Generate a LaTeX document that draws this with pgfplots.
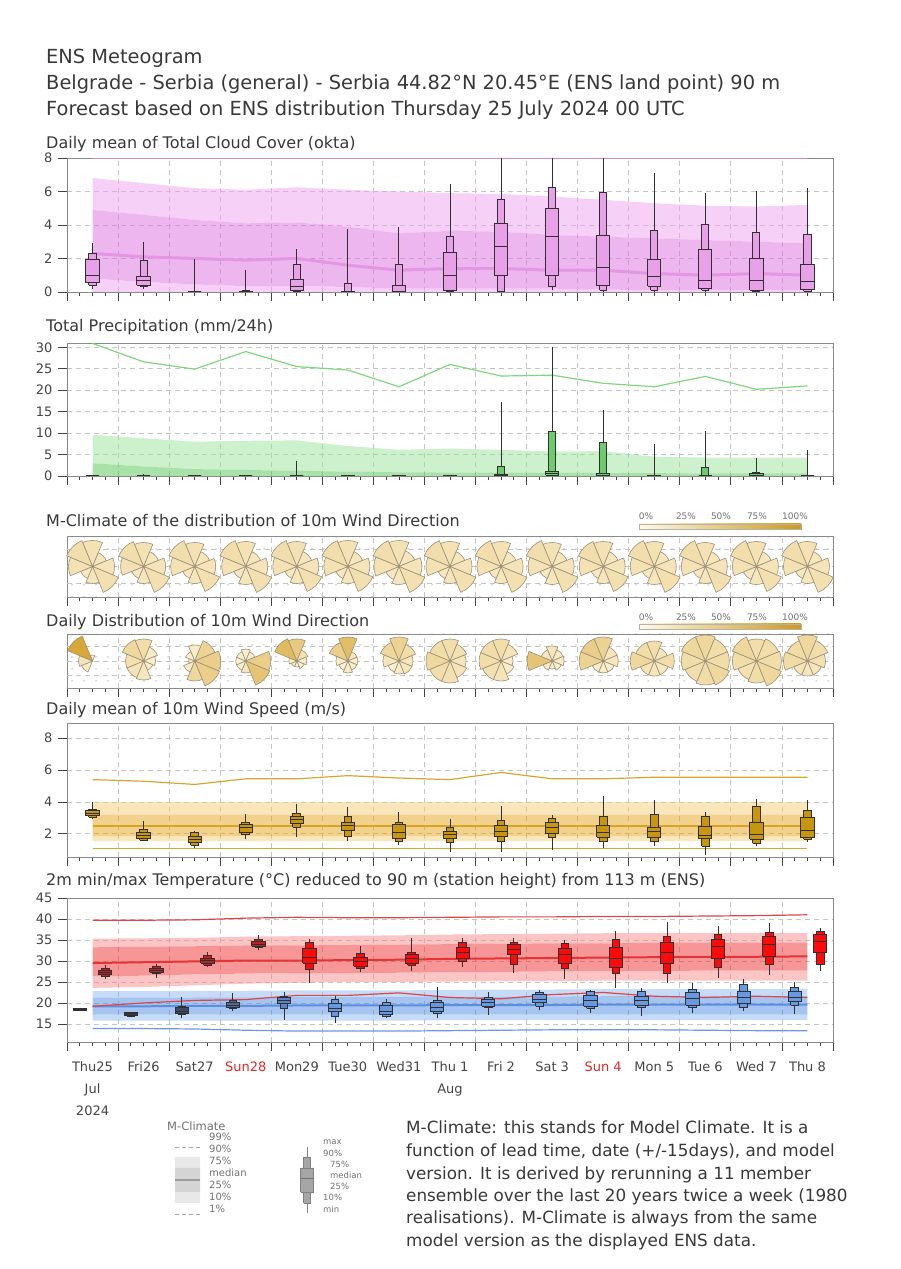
\documentclass[border=0pt]{standalone}
\usepackage{pgfplots}
\pgfplotsset{compat=1.18}
\usepackage{pgfplotstable}
\usepgfplotslibrary{fillbetween}
\usetikzlibrary{patterns.meta}
\usepackage{fontspec}
\setmainfont{DejaVu Sans}

\definecolor{txt}{HTML}{383838}
\definecolor{tickc}{HTML}{444444}
\definecolor{axisc}{HTML}{8A8A8A}
\definecolor{gridc}{HTML}{C4C4C4}
\definecolor{dotc}{HTML}{B0B0B0}
\definecolor{boxedge}{HTML}{303030}
\definecolor{cloudL}{HTML}{EDA1ED}
\definecolor{cloudM}{HTML}{DD6DDD}
\definecolor{cloudMed}{HTML}{E396E3}
\definecolor{cloudTop}{HTML}{D48AB8}
\definecolor{cloudBox}{HTML}{E8A0E8}
\definecolor{precL}{HTML}{9BE19B}
\definecolor{precM}{HTML}{51C551}
\definecolor{prec99}{HTML}{7FD67F}
\definecolor{precBox}{HTML}{6CCB6C}
\definecolor{windL}{HTML}{F3CD78}
\definecolor{windM}{HTML}{E3A318}
\definecolor{windMed}{HTML}{D8A424}
\definecolor{wind99}{HTML}{D6A630}
\definecolor{windBox}{HTML}{C8960E}
\definecolor{redL}{HTML}{F98B8B}
\definecolor{redM}{HTML}{ED2D2D}
\definecolor{redMed}{HTML}{E43434}
\definecolor{red99}{HTML}{E04444}
\definecolor{redA}{HTML}{BE2222}
\definecolor{redB}{HTML}{FF0A0A}
\definecolor{blueL}{HTML}{8DB7EF}
\definecolor{blueM}{HTML}{4D89E1}
\definecolor{blueMed}{HTML}{5C8EE0}
\definecolor{blueOne}{HTML}{6B97E2}
\definecolor{blueA}{HTML}{3C3C40}
\definecolor{blueB}{HTML}{3E4C68}
\definecolor{blueC}{HTML}{4E6C9E}
\definecolor{blueD}{HTML}{5B82C6}
\definecolor{blueE}{HTML}{6898E2}
\definecolor{roseLo}{HTML}{FFF9E6}
\definecolor{roseHi}{HTML}{D09A18}
\definecolor{roseMid}{HTML}{E8C96E}
\definecolor{roseEdge}{HTML}{9C9078}
\definecolor{sunred}{HTML}{E02828}
\definecolor{legg}{HTML}{707070}

% ---------------- data ----------------
\pgfplotstableread{
x q10 q25 md q75 q90 p99
0 0 0.8 2.3 4.9 6.8 7.96
1 0 0.6 2.1 4.6 6.5 7.96
2 0 0.45 2.0 4.3 6.2 7.96
3 0 0.35 1.9 4.1 6.1 7.96
4 0 0.35 2.0 4.15 6.25 7.96
5 0 0.3 1.6 3.9 6.1 7.96
6 0 0.2 1.3 3.5 6.0 7.96
7 0 0.2 1.4 3.65 5.9 7.96
8 0 0.2 1.4 3.6 5.85 7.96
9 0 0.2 1.3 3.4 5.7 7.96
10 0 0.15 1.3 3.3 5.5 7.96
11 0 0.1 1.1 3.2 5.3 7.96
12 0 0.1 1.0 3.1 5.15 7.96
13 0 0.1 1.1 3.0 5.1 7.96
14 0 0.1 1.0 2.9 5.2 7.96
}\cloudclim
\pgfplotstableread{
x mn q10 q25 md q75 q90 mx
0 0.2 0.4 0.54 0.96 1.94 2.3 2.9
1 0.2 0.3 0.4 0.7 0.9 1.86 3.0
2 0 0 0 0 0 0 1.94
3 0 0 0 0.02 0.05 0.1 1.3
4 0 0 0.1 0.3 0.76 1.66 2.55
5 0 0 0 0 0 0.5 3.76
6 0 0 0 0.05 0.36 1.66 3.86
7 0 0.05 0.1 1.0 2.34 3.34 6.44
8 0 0 0.96 2.7 4.06 5.5 8
9 0.1 0.3 0.96 3.34 4.98 6.26 8
10 0 0.1 0.36 1.46 3.4 5.94 8
11 0 0.1 0.34 0.94 1.94 3.66 7.1
12 0 0.1 0.2 0.7 2.56 4.0 5.9
13 0 0 0.1 0.7 2.0 3.54 6.0
14 0 0.05 0.14 0.6 1.66 3.46 6.2
}\cloudbox
\pgfplotstableread{
x q10 q75 q90 p99
0 0 2.95 9.6 30.9
1 0 2.2 8.8 26.6
2 0 1.6 8.0 24.9
3 0 1.4 8.2 29.0
4 0 1.2 8.3 25.5
5 0 1.0 7.0 24.7
6 0 0.85 6.1 20.8
7 0 0.8 6.4 26.0
8 0 0.8 6.1 23.3
9 0 0.75 5.7 23.5
10 0 0.7 5.8 21.6
11 0 0.65 4.5 20.8
12 0 0.6 4.3 23.2
13 0 0.6 4.3 20.2
14 0 0.6 4.3 21.0
}\precclim
\pgfplotstableread{
x mn q10 q25 md q75 q90 mx
0 0 0 0 0 0 0.1 0.3
1 0 0 0 0 0 0.1 0.5
2 0 0 0 0 0 0 0
3 0 0 0 0 0 0 0
4 0 0 0 0 0 0 3.5
5 0 0 0 0 0 0 0
6 0 0 0 0 0 0 0.2
7 0 0 0 0 0 0 0
8 0 0 0 0 0.3 2.2 17.2
9 0 0 0.2 0.5 1.0 10.3 30.1
10 0 0 0 0.2 0.6 7.8 15.4
11 0 0 0 0 0.1 0.2 7.4
12 0 0 0 0 0 1.9 10.6
13 0 0 0 0.2 0.6 0.8 4.1
14 0 0 0 0 0 0.1 6.1
}\precbox
\pgfplotstableread{
x n ne e se s sw w nw cn cne ce cse cs csw cw cnw
0 26 15 22 28 17 13 24 28 24 20 22 26 20 18 24 28
1 24 16 22 28 17 13 23 27 24 20 22 26 20 18 24 28
2 24 16 21 27 17 13 24 28 24 20 22 26 20 18 24 28
3 25 16 22 28 18 13 24 28 24 20 22 26 20 18 24 28
4 25 16 22 27 17 13 24 28 24 20 22 26 20 18 24 28
5 26 16 22 27 17 13 24 28 24 20 22 26 20 18 24 28
6 26 17 23 28 18 14 25 28 24 20 22 26 20 18 24 28
7 25 16 22 28 17 13 24 28 24 20 22 26 20 18 24 28
8 25 16 22 28 17 13 24 28 24 20 22 26 20 18 24 28
9 24 16 22 28 18 13 24 28 24 20 22 26 20 18 24 28
10 25 16 22 27 17 13 24 27 24 20 22 26 20 18 24 28
11 25 16 22 28 18 13 24 28 24 20 22 26 20 18 24 28
12 24 16 22 28 17 13 24 28 24 20 22 26 20 18 24 28
13 25 16 22 27 18 14 24 28 24 20 22 26 20 18 24 28
14 25 16 22 28 17 13 24 28 24 20 22 26 20 18 24 28
}\mcrose
\pgfplotstableread{
x n ne e se s sw w nw cn cne ce cse cs csw cw cnw
0 6 0.1 0.1 0.1 0.1 12 14 27 10 0 0 0 0 15 22 85
1 22 15 12 10 19 18 18 23 30 15 12 12 20 22 25 35
2 16 22 26 27 20 12 6 10 15 40 45 45 35 15 10 10
3 12 10 25 26 12 10 10 10 12 12 45 55 20 10 10 10
4 22 12 10 8 6 6 8 24 50 25 15 10 8 8 12 65
5 24 10 10 10 12 10 12 20 62 20 12 12 15 10 15 45
6 24 18 14 14 13 12 16 20 40 30 20 20 15 12 20 35
7 22 18 16 18 22 22 24 22 28 25 20 22 25 28 35 30
8 22 18 12 14 20 20 22 22 28 22 15 15 22 25 30 30
9 15 12 12 10 8 10 25 12 20 15 15 10 12 15 55 20
10 24 15 15 12 12 12 24 24 40 20 20 12 12 15 40 45
11 20 14 20 15 15 15 24 20 28 20 28 18 20 22 35 30
12 26 24 24 26 24 22 24 26 35 30 30 35 30 28 30 35
13 22 24 25 27 22 20 24 26 28 30 30 35 30 25 30 35
14 26 22 18 15 15 15 24 22 35 28 25 20 20 22 32 32
}\dyrose
\pgfplotstableread{
x p1 q10 q25 md q75 q90 p99
0 1.1 1.55 1.85 2.5 3.2 4.0 5.4
1 1.1 1.55 1.85 2.5 3.2 4.0 5.3
2 1.1 1.55 1.85 2.5 3.2 4.0 5.1
3 1.1 1.55 1.85 2.5 3.2 4.0 5.45
4 1.1 1.55 1.85 2.5 3.2 4.0 5.45
5 1.1 1.55 1.85 2.5 3.2 4.0 5.65
6 1.1 1.55 1.85 2.5 3.2 4.0 5.5
7 1.1 1.55 1.85 2.5 3.2 4.0 5.4
8 1.1 1.55 1.85 2.5 3.2 4.0 5.85
9 1.1 1.55 1.85 2.5 3.2 4.0 5.45
10 1.1 1.55 1.85 2.5 3.2 4.0 5.45
11 1.1 1.55 1.85 2.5 3.2 4.0 5.55
12 1.1 1.55 1.85 2.5 3.2 4.0 5.55
13 1.1 1.55 1.85 2.5 3.2 4.0 5.55
14 1.1 1.55 1.85 2.5 3.2 4.0 5.55
}\windclim
\pgfplotstableread{
x mn q10 q25 md q75 q90 mx
0 2.95 3.05 3.15 3.3 3.45 3.55 4.0
1 1.55 1.6 1.7 1.9 2.1 2.27 2.8
2 1.1 1.3 1.44 1.65 1.85 2.1 2.2
3 1.65 1.96 2.1 2.4 2.6 2.73 3.27
4 1.8 2.4 2.65 2.9 3.1 3.3 3.9
5 1.55 1.85 2.2 2.5 2.7 3.06 3.7
6 1.3 1.55 1.7 2.1 2.6 2.73 3.4
7 0.85 1.44 1.7 1.96 2.17 2.4 2.94
8 0.85 1.54 1.85 2.17 2.5 2.85 3.73
9 1.0 1.8 2.0 2.38 2.73 2.94 3.2
10 1.1 1.54 1.8 2.06 2.52 3.06 4.35
11 1.23 1.54 1.75 2.12 2.38 3.2 4.1
12 0.7 1.23 1.7 1.9 2.44 3.06 3.4
13 1.23 1.4 1.65 1.96 2.73 3.73 4.2
14 1.5 1.65 1.75 2.2 3.0 3.46 4.1
}\windbox
\pgfplotstableread{
x p1 q10 q25 md q75 q90 p99
0 19.2 23.6 26.3 29.5 33.25 35.3 39.7
1 20.0 23.8 26.5 29.7 33.4 35.4 39.7
2 20.6 24.2 26.8 29.9 33.5 35.5 39.8
3 20.8 24.6 27.0 30.1 33.7 35.8 40.2
4 21.8 24.8 27.1 30.1 33.7 35.9 40.4
5 21.8 25.0 27.1 30.2 33.8 36.0 40.3
6 22.4 25.0 27.2 30.3 33.9 36.1 40.3
7 21.3 25.1 27.3 30.5 34.0 36.3 40.4
8 21.0 25.2 27.4 30.6 34.1 36.4 40.5
9 22.0 25.2 27.5 30.7 34.2 36.5 40.5
10 22.5 25.3 27.6 30.8 34.2 36.6 40.6
11 21.6 25.3 27.6 30.9 34.3 36.7 40.6
12 21.3 25.3 27.7 31.0 34.3 36.7 40.7
13 21.6 25.3 27.7 31.0 34.3 36.7 40.8
14 21.3 25.3 27.7 31.1 34.3 36.7 41.0
}\tmaxclim
\pgfplotstableread{
x p1 q10 q25 md q75 q90 p99
0 13.9 15.8 17.2 19.2 21.2 22.8 24.6
1 13.9 15.8 17.2 19.2 21.2 22.8 24.7
2 13.8 15.8 17.2 19.3 21.3 22.9 24.8
3 13.5 15.8 17.2 19.3 21.3 22.9 24.8
4 13.3 15.8 17.2 19.4 21.4 23.0 24.9
5 13.3 15.8 17.2 19.4 21.4 23.0 25.0
6 13.3 15.8 17.2 19.4 21.4 23.0 25.0
7 13.4 15.9 17.2 19.5 21.5 23.1 25.1
8 13.5 15.9 17.2 19.5 21.5 23.2 25.1
9 13.6 15.9 17.2 19.5 21.5 23.2 25.2
10 13.6 15.9 17.2 19.6 21.6 23.3 25.2
11 13.6 15.9 17.2 19.6 21.6 23.3 25.3
12 13.5 15.9 17.2 19.6 21.6 23.3 25.3
13 13.4 15.9 17.2 19.6 21.6 23.3 25.3
14 13.4 15.9 17.2 19.6 21.6 23.3 25.3
}\tminclim
\pgfplotstableread{
x mn q10 q25 md q75 q90 mx
0 25.6 26.3 26.7 27.3 27.8 28.2 29.1
1 26.0 26.9 27.3 27.8 28.3 28.7 29.3
2 28.5 29.0 29.5 30.1 30.7 31.3 32.1
3 32.5 33.3 33.5 34.0 34.7 35.1 36.3
4 24.8 27.9 29.5 30.9 32.9 34.3 35.3
5 27.4 28.1 28.7 29.8 30.9 31.7 33.5
6 27.7 29.0 29.5 30.6 31.5 32.1 35.5
7 28.5 29.8 30.7 32.1 33.1 34.3 35.5
8 27.1 29.1 31.5 32.7 33.9 34.4 35.5
9 25.8 28.3 29.5 31.5 32.9 34.1 35.1
10 23.6 27.1 28.5 30.7 33.1 35.1 37.2
11 24.8 27.1 29.5 32.1 34.3 35.9 39.4
12 26.0 28.5 30.7 33.5 35.1 36.3 38.3
13 26.6 29.1 31.1 33.9 35.9 36.9 39.0
14 27.7 29.1 31.9 34.7 36.3 37.1 37.9
}\tmaxbox
\pgfplotstableread{
x mn q10 q25 md q75 q90 mx
0 18.0 18.1 18.2 18.4 18.6 18.7 18.8
1 16.6 16.8 17.0 17.4 17.7 17.8 17.9
2 16.3 17.2 17.4 18.0 18.8 19.2 21.3
3 18.2 18.7 18.8 19.4 20.2 20.6 22.4
4 16.0 18.7 19.8 20.6 21.3 21.6 22.6
5 15.2 16.8 17.9 18.7 19.8 20.8 21.6
6 16.4 16.8 17.2 18.0 19.4 20.0 21.0
7 16.4 17.4 17.9 19.0 20.0 20.6 23.7
8 17.2 18.8 19.2 20.0 20.8 21.2 22.6
9 18.4 19.2 20.0 20.8 22.0 22.6 23.2
10 17.6 18.7 19.2 20.6 21.8 22.8 23.2
11 16.8 18.8 19.4 20.6 21.6 22.8 23.6
12 17.6 18.8 19.4 21.0 22.4 23.2 24.8
13 18.0 18.8 19.8 21.3 22.8 24.5 25.8
14 17.4 19.4 20.4 21.3 22.8 23.6 25.0
}\tminbox

% ---------------- styles ----------------
\pgfplotsset{
  meteo/.style={
    scale only axis, width=766pt, anchor=south west,
    xmin=-0.5, xmax=14.5,
    xtick={-0.5,0.5,...,14.5}, minor x tick num=3, xticklabels={},
    tick align=outside, tick pos=left,
    major tick length=9pt, minor tick length=4.5pt,
    tick style={draw=tickc, line width=0.8pt},
    grid=major, major grid style={draw=gridc, line width=0.8pt, dash pattern=on 5pt off 4pt},
    axis line style={draw=axisc, line width=0.9pt},
    yticklabel style={font=\fontsize{13}{13}\selectfont, text=tickc, xshift=-2pt},
    /pgf/number format/assume math mode=true,
  },
  band/.style={fill=#1, fill opacity=0.5, draw=none},
  rosepanel/.style={
    meteo, ymin=-1, ymax=1, ytick=\empty,
    extra y ticks={-0.55,0,0.55}, extra y tick labels={},
    extra y tick style={major tick length=0pt},
    axis background/.style={pattern={Dots[distance=12pt,radius=0.75pt]}, pattern color=dotc},
  },
}

% one wind-rose sector: angle, radius (pt), colour percent
\newcommand{\rosewedge}[3]{%
  \pgfkeys{/pgf/fpu=false}%
  \pgfmathsetmacro\wa{#1-22.5}\pgfmathsetmacro\wb{#1+22.5}%
  \pgfpathmoveto{\pgfpointorigin}%
  \pgfpathlineto{\pgfpointpolar{\wa}{#2pt}}%
  \pgfpatharc{\wa}{\wb}{#2pt}%
  \pgfpathclose
  \colorlet{rosetmp}{roseHi!#3!roseLo}%
  \pgfsetfillcolor{rosetmp}\pgfsetstrokecolor{roseEdge}\pgfsetlinewidth{0.6pt}%
  \pgfusepath{fill,stroke}%
}
% declare one plot mark per day from a rose table: #1 table, #2 mark prefix
\newcommand{\defroses}[2]{%
  \pgfplotsinvokeforeach{0,...,14}{%
    \pgfplotstablegetelem{##1}{n}\of#1\edef\rA{\pgfplotsretval}%
    \pgfplotstablegetelem{##1}{ne}\of#1\edef\rB{\pgfplotsretval}%
    \pgfplotstablegetelem{##1}{e}\of#1\edef\rC{\pgfplotsretval}%
    \pgfplotstablegetelem{##1}{se}\of#1\edef\rD{\pgfplotsretval}%
    \pgfplotstablegetelem{##1}{s}\of#1\edef\rE{\pgfplotsretval}%
    \pgfplotstablegetelem{##1}{sw}\of#1\edef\rF{\pgfplotsretval}%
    \pgfplotstablegetelem{##1}{w}\of#1\edef\rG{\pgfplotsretval}%
    \pgfplotstablegetelem{##1}{nw}\of#1\edef\rH{\pgfplotsretval}%
    \pgfplotstablegetelem{##1}{cn}\of#1\edef\cA{\pgfplotsretval}%
    \pgfplotstablegetelem{##1}{cne}\of#1\edef\cB{\pgfplotsretval}%
    \pgfplotstablegetelem{##1}{ce}\of#1\edef\cC{\pgfplotsretval}%
    \pgfplotstablegetelem{##1}{cse}\of#1\edef\cD{\pgfplotsretval}%
    \pgfplotstablegetelem{##1}{cs}\of#1\edef\cE{\pgfplotsretval}%
    \pgfplotstablegetelem{##1}{csw}\of#1\edef\cF{\pgfplotsretval}%
    \pgfplotstablegetelem{##1}{cw}\of#1\edef\cG{\pgfplotsretval}%
    \pgfplotstablegetelem{##1}{cnw}\of#1\edef\cH{\pgfplotsretval}%
    \edef\tmp{\noexpand\pgfdeclareplotmark{#2##1}{%
      \noexpand\rosewedge{90}{\rA}{\cA}\noexpand\rosewedge{45}{\rB}{\cB}%
      \noexpand\rosewedge{0}{\rC}{\cC}\noexpand\rosewedge{-45}{\rD}{\cD}%
      \noexpand\rosewedge{-90}{\rE}{\cE}\noexpand\rosewedge{-135}{\rF}{\cF}%
      \noexpand\rosewedge{180}{\rG}{\cG}\noexpand\rosewedge{135}{\rH}{\cH}}}%
    \tmp
  }%
}
\newcommand{\placeroses}[2]{%
  \pgfplotsinvokeforeach{0,...,14}{%
    \pgfplotstablegetelem{##1}{x}\of#1\edef\rx{\pgfplotsretval}%
    \edef\tmp{\noexpand\addplot[only marks, mark=#2##1] coordinates {(\rx,0)};}%
    \tmp
  }%
}
\defroses{\mcrose}{mcr}
\defroses{\dyrose}{dyr}

% #1 table, #2 rows, #3 fill colour, #4 x offset, #5 narrow half width
\newcommand{\ensboxes}[5]{%
  \pgfplotsinvokeforeach{#2}{%
    \pgfplotstablegetelem{##1}{mn}\of#1\edef\bmn{\pgfplotsretval}%
    \pgfplotstablegetelem{##1}{q10}\of#1\edef\bqa{\pgfplotsretval}%
    \pgfplotstablegetelem{##1}{q25}\of#1\edef\bqb{\pgfplotsretval}%
    \pgfplotstablegetelem{##1}{md}\of#1\edef\bmd{\pgfplotsretval}%
    \pgfplotstablegetelem{##1}{q75}\of#1\edef\bqc{\pgfplotsretval}%
    \pgfplotstablegetelem{##1}{q90}\of#1\edef\bqd{\pgfplotsretval}%
    \pgfplotstablegetelem{##1}{mx}\of#1\edef\bmx{\pgfplotsretval}%
    \pgfmathsetmacro\bpos{##1#4}%
    \pgfmathsetmacro\bna{\bpos-#5}\pgfmathsetmacro\bnb{\bpos+#5}%
    \pgfmathsetmacro\bwa{\bpos-0.13}\pgfmathsetmacro\bwb{\bpos+0.13}%
    \edef\doboxes{%
      \noexpand\addplot[boxedge, line width=1pt] coordinates {(\bpos,\bmn) (\bpos,\bmx)};
      \noexpand\addplot[fill=#3, draw=boxedge, line width=1pt, line join=miter] coordinates {(\bna,\bqa) (\bnb,\bqa) (\bnb,\bqd) (\bna,\bqd) (\bna,\bqa)};
      \noexpand\addplot[fill=#3, draw=boxedge, line width=1pt, line join=miter] coordinates {(\bwa,\bqb) (\bwb,\bqb) (\bwb,\bqc) (\bwa,\bqc) (\bwa,\bqb)};
      \noexpand\addplot[boxedge, line width=1pt] coordinates {(\bwa,\bmd) (\bwb,\bmd)};
    }%
    \doboxes
  }%
}

\begin{document}
\begin{tikzpicture}
\path (0pt,0pt) rectangle (900pt,1269pt);

% titles
\begin{scope}[every node/.style={anchor=base west, inner sep=0pt, text=txt}]
\node[font=\fontsize{19.4}{19.4}\selectfont] at (46pt,1205.5pt) {ENS Meteogram};
\node[font=\fontsize{19.4}{19.4}\selectfont] at (46pt,1179.5pt) {Belgrade - Serbia (general) - Serbia 44.82°N 20.45°E (ENS land point) 90 m};
\node[font=\fontsize{19.4}{19.4}\selectfont] at (46pt,1153.5pt) {Forecast based on ENS distribution Thursday 25 July 2024 00 UTC};
\node[font=\fontsize{16}{16}\selectfont] at (46pt,1120pt) {Daily mean of Total Cloud Cover (okta)};
\node[font=\fontsize{16}{16}\selectfont] at (46pt,937pt) {Total Precipitation (mm/24h)};
\node[font=\fontsize{16}{16}\selectfont] at (46pt,742pt) {M-Climate of the distribution of 10m Wind Direction};
\node[font=\fontsize{16}{16}\selectfont] at (46pt,642pt) {Daily Distribution of 10m Wind Direction};
\node[font=\fontsize{16}{16}\selectfont] at (46pt,554pt) {Daily mean of 10m Wind Speed (m/s)};
\node[font=\fontsize{16}{16}\selectfont] at (46pt,383pt) {2m min/max Temperature (°C) reduced to 90 m (station height) from 113 m (ENS)};
\end{scope}

% ---- cloud cover ----
\begin{axis}[meteo, at={(67pt,977pt)}, height=134pt, ymin=0, ymax=8, ytick={0,2,4,6,8}]
\addplot[name path=ca, draw=none] table[x=x,y=q90]{\cloudclim};
\addplot[name path=cb, draw=none] table[x=x,y=q10]{\cloudclim};
\addplot[name path=cc, draw=none] table[x=x,y=q75]{\cloudclim};
\addplot[name path=cd, draw=none] table[x=x,y=q25]{\cloudclim};
\addplot[band=cloudL] fill between[of=ca and cc];
\addplot[band=cloudM] fill between[of=cc and cd];
\addplot[band=cloudL] fill between[of=cd and cb];
\addplot[cloudMed, line width=3pt] table[x=x,y=md]{\cloudclim};
\addplot[cloudTop, line width=1.2pt] table[x=x,y=p99]{\cloudclim};
\ensboxes{\cloudbox}{0,...,14}{cloudBox}{+0}{0.07}
\end{axis}

% ---- precipitation ----
\begin{axis}[meteo, at={(67pt,793pt)}, height=133pt, ymin=0, ymax=31, ytick={0,5,...,30}]
\addplot[name path=pa, draw=none] table[x=x,y=q90]{\precclim};
\addplot[name path=pb, draw=none] table[x=x,y=q10]{\precclim};
\addplot[name path=pc, draw=none] table[x=x,y=q75]{\precclim};
\addplot[band=precL] fill between[of=pa and pc];
\addplot[band=precM] fill between[of=pc and pb];
\addplot[prec99, line width=1.2pt] table[x=x,y=p99]{\precclim};
\ensboxes{\precbox}{0,...,14}{precBox}{+0}{0.07}
\end{axis}

% ---- wind direction M-climate ----
\begin{axis}[rosepanel, at={(67pt,672pt)}, height=61pt]
\placeroses{\mcrose}{mcr}
\end{axis}
\shade[left color=roseLo, middle color=roseMid, right color=roseHi, draw=gray!60, line width=0.4pt] (639pt,740pt) rectangle (801pt,745pt);
\begin{scope}[every node/.style={font=\fontsize{9}{9}\selectfont, text=legg, inner sep=0pt}]
\node at (646pt,753pt) {0\%}; \node at (686pt,753pt) {25\%}; \node at (721pt,753pt) {50\%};
\node at (757pt,753pt) {75\%}; \node at (795pt,753pt) {100\%};
\end{scope}

% ---- wind direction daily ----
\begin{axis}[rosepanel, at={(67pt,581pt)}, height=54pt]
\placeroses{\dyrose}{dyr}
\end{axis}
\shade[left color=roseLo, middle color=roseMid, right color=roseHi, draw=gray!60, line width=0.4pt] (639pt,640pt) rectangle (801pt,645pt);
\begin{scope}[every node/.style={font=\fontsize{9}{9}\selectfont, text=legg, inner sep=0pt}]
\node at (646pt,652pt) {0\%}; \node at (686pt,652pt) {25\%}; \node at (721pt,652pt) {50\%};
\node at (757pt,652pt) {75\%}; \node at (795pt,652pt) {100\%};
\end{scope}

% ---- wind speed ----
\begin{axis}[meteo, at={(67pt,412pt)}, height=134pt, ymin=0.55, ymax=8.95, ytick={2,4,6,8}]
\addplot[name path=wa, draw=none] table[x=x,y=q90]{\windclim};
\addplot[name path=wb, draw=none] table[x=x,y=q10]{\windclim};
\addplot[name path=wc, draw=none] table[x=x,y=q75]{\windclim};
\addplot[name path=wd, draw=none] table[x=x,y=q25]{\windclim};
\addplot[band=windL] fill between[of=wa and wc];
\addplot[band=windM] fill between[of=wc and wd];
\addplot[band=windL] fill between[of=wd and wb];
\addplot[windMed, line width=2.5pt] table[x=x,y=md]{\windclim};
\addplot[wind99, line width=1.2pt] table[x=x,y=p99]{\windclim};
\addplot[wind99, line width=1.2pt] table[x=x,y=p1]{\windclim};
\ensboxes{\windbox}{0,...,14}{windBox}{+0}{0.075}
\end{axis}

% ---- temperature ----
\begin{axis}[meteo, at={(67pt,227pt)}, height=144pt, ymin=10.7, ymax=45, ytick={15,20,...,45},
  extra x ticks={0,...,14},
  extra x tick labels={{Thu25\\Jul\\2024},Fri26,Sat27,\textcolor{sunred}{Sun28},Mon29,Tue30,Wed31,{Thu 1\\Aug},Fri 2,Sat 3,\textcolor{sunred}{Sun 4},Mon 5,Tue 6,Wed 7,Thu 8},
  extra x tick style={grid=none, major tick length=0pt,
    xticklabel style={align=center, anchor=north, font=\fontsize{13}{22}\selectfont, text=tickc, yshift=-16pt}}]
\addplot[name path=ba, draw=none] table[x=x,y=q90]{\tminclim};
\addplot[name path=bb, draw=none] table[x=x,y=q10]{\tminclim};
\addplot[name path=bc, draw=none] table[x=x,y=q75]{\tminclim};
\addplot[name path=bd, draw=none] table[x=x,y=q25]{\tminclim};
\addplot[band=blueL] fill between[of=ba and bc];
\addplot[band=blueM] fill between[of=bc and bd];
\addplot[band=blueL] fill between[of=bd and bb];
\addplot[name path=ra, draw=none] table[x=x,y=q90]{\tmaxclim};
\addplot[name path=rb, draw=none] table[x=x,y=q10]{\tmaxclim};
\addplot[name path=rc, draw=none] table[x=x,y=q75]{\tmaxclim};
\addplot[name path=rd, draw=none] table[x=x,y=q25]{\tmaxclim};
\addplot[band=redL] fill between[of=ra and rc];
\addplot[band=redM] fill between[of=rc and rd];
\addplot[band=redL] fill between[of=rd and rb];
\addplot[blueMed, line width=2pt] table[x=x,y=md]{\tminclim};
\addplot[blueOne, line width=1.2pt] table[x=x,y=p1]{\tminclim};
\addplot[redMed, line width=2pt] table[x=x,y=md]{\tmaxclim};
\addplot[red99, line width=1.2pt] table[x=x,y=p99]{\tmaxclim};
\addplot[red99, line width=1.2pt] table[x=x,y=p1]{\tmaxclim};
\ensboxes{\tminbox}{0,1}{blueA}{-0.25}{0.075}
\ensboxes{\tminbox}{2}{blueB}{-0.25}{0.075}
\ensboxes{\tminbox}{3}{blueC}{-0.25}{0.075}
\ensboxes{\tminbox}{4}{blueD}{-0.25}{0.075}
\ensboxes{\tminbox}{5,...,14}{blueE}{-0.25}{0.075}
\ensboxes{\tmaxbox}{0,...,3}{redA}{+0.25}{0.075}
\ensboxes{\tmaxbox}{4,...,14}{redB}{+0.25}{0.075}
\end{axis}

% ---- legend graphics ----
\begin{axis}[hide axis, scale only axis, anchor=south west, at={(160pt,49pt)}, width=200pt, height=90pt,
  xmin=0, xmax=200, ymin=0, ymax=90, clip=false]
\addplot[fill=black!9, draw=none] coordinates {(15,17) (40,17) (40,63) (15,63) (15,17)};
\addplot[fill=black!17, draw=none] coordinates {(15,28) (40,28) (40,52) (15,52) (15,28)};
\addplot[black!38, line width=2.5pt] coordinates {(15,40) (40,40)};
\addplot[black!35, line width=0.8pt, dash pattern=on 4pt off 3pt] coordinates {(15,73) (40,73)};
\addplot[black!35, line width=0.8pt, dash pattern=on 4pt off 3pt] coordinates {(15,6) (40,6)};
\addplot[black!50, line width=0.8pt] coordinates {(147,7) (147,73)};
\addplot[fill=black!35, draw=black!50, line width=0.8pt] coordinates {(143.5,17) (150.5,17) (150.5,63) (143.5,63) (143.5,17)};
\addplot[fill=black!35, draw=black!50, line width=0.8pt] coordinates {(140.5,28) (153.5,28) (153.5,52) (140.5,52) (140.5,28)};
\addplot[black!55, line width=0.8pt] coordinates {(140.5,42) (153.5,42)};
\end{axis}
\begin{scope}[every node/.style={anchor=west, inner sep=0pt, text=legg}]
\node[font=\fontsize{11.5}{11.5}\selectfont] at (167pt,143pt) {M-Climate};
\node[font=\fontsize{10}{10}\selectfont] at (209pt,132pt) {99\%};
\node[font=\fontsize{10}{10}\selectfont] at (209pt,120pt) {90\%};
\node[font=\fontsize{10}{10}\selectfont] at (209pt,108pt) {75\%};
\node[font=\fontsize{10}{10}\selectfont] at (209pt,96pt) {median};
\node[font=\fontsize{10}{10}\selectfont] at (209pt,84pt) {25\%};
\node[font=\fontsize{10}{10}\selectfont] at (209pt,72pt) {10\%};
\node[font=\fontsize{10}{10}\selectfont] at (209pt,60pt) {1\%};
\node[font=\fontsize{8.5}{8.5}\selectfont] at (323pt,127pt) {max};
\node[font=\fontsize{8.5}{8.5}\selectfont] at (323pt,116pt) {90\%};
\node[font=\fontsize{8.5}{8.5}\selectfont] at (330pt,105pt) {75\%};
\node[font=\fontsize{8.5}{8.5}\selectfont] at (330pt,94pt) {median};
\node[font=\fontsize{8.5}{8.5}\selectfont] at (330pt,83pt) {25\%};
\node[font=\fontsize{8.5}{8.5}\selectfont] at (323pt,72pt) {10\%};
\node[font=\fontsize{8.5}{8.5}\selectfont] at (323pt,60pt) {min};
\end{scope}
\begin{scope}[every node/.style={anchor=base west, inner sep=0pt, text=txt, font=\fontsize{16.8}{16.8}\selectfont}]
\node at (406pt,135pt) {M-Climate: this stands for Model Climate. It is a};
\node at (406pt,112pt) {function of lead time, date (+/-15days), and model};
\node at (406pt,89pt) {version. It is derived by rerunning a 11 member};
\node at (406pt,67pt) {ensemble over the last 20 years twice a week (1980};
\node at (406pt,45pt) {realisations). M-Climate is always from the same};
\node at (406pt,22pt) {model version as the displayed ENS data.};
\end{scope}
\end{tikzpicture}
\end{document}
